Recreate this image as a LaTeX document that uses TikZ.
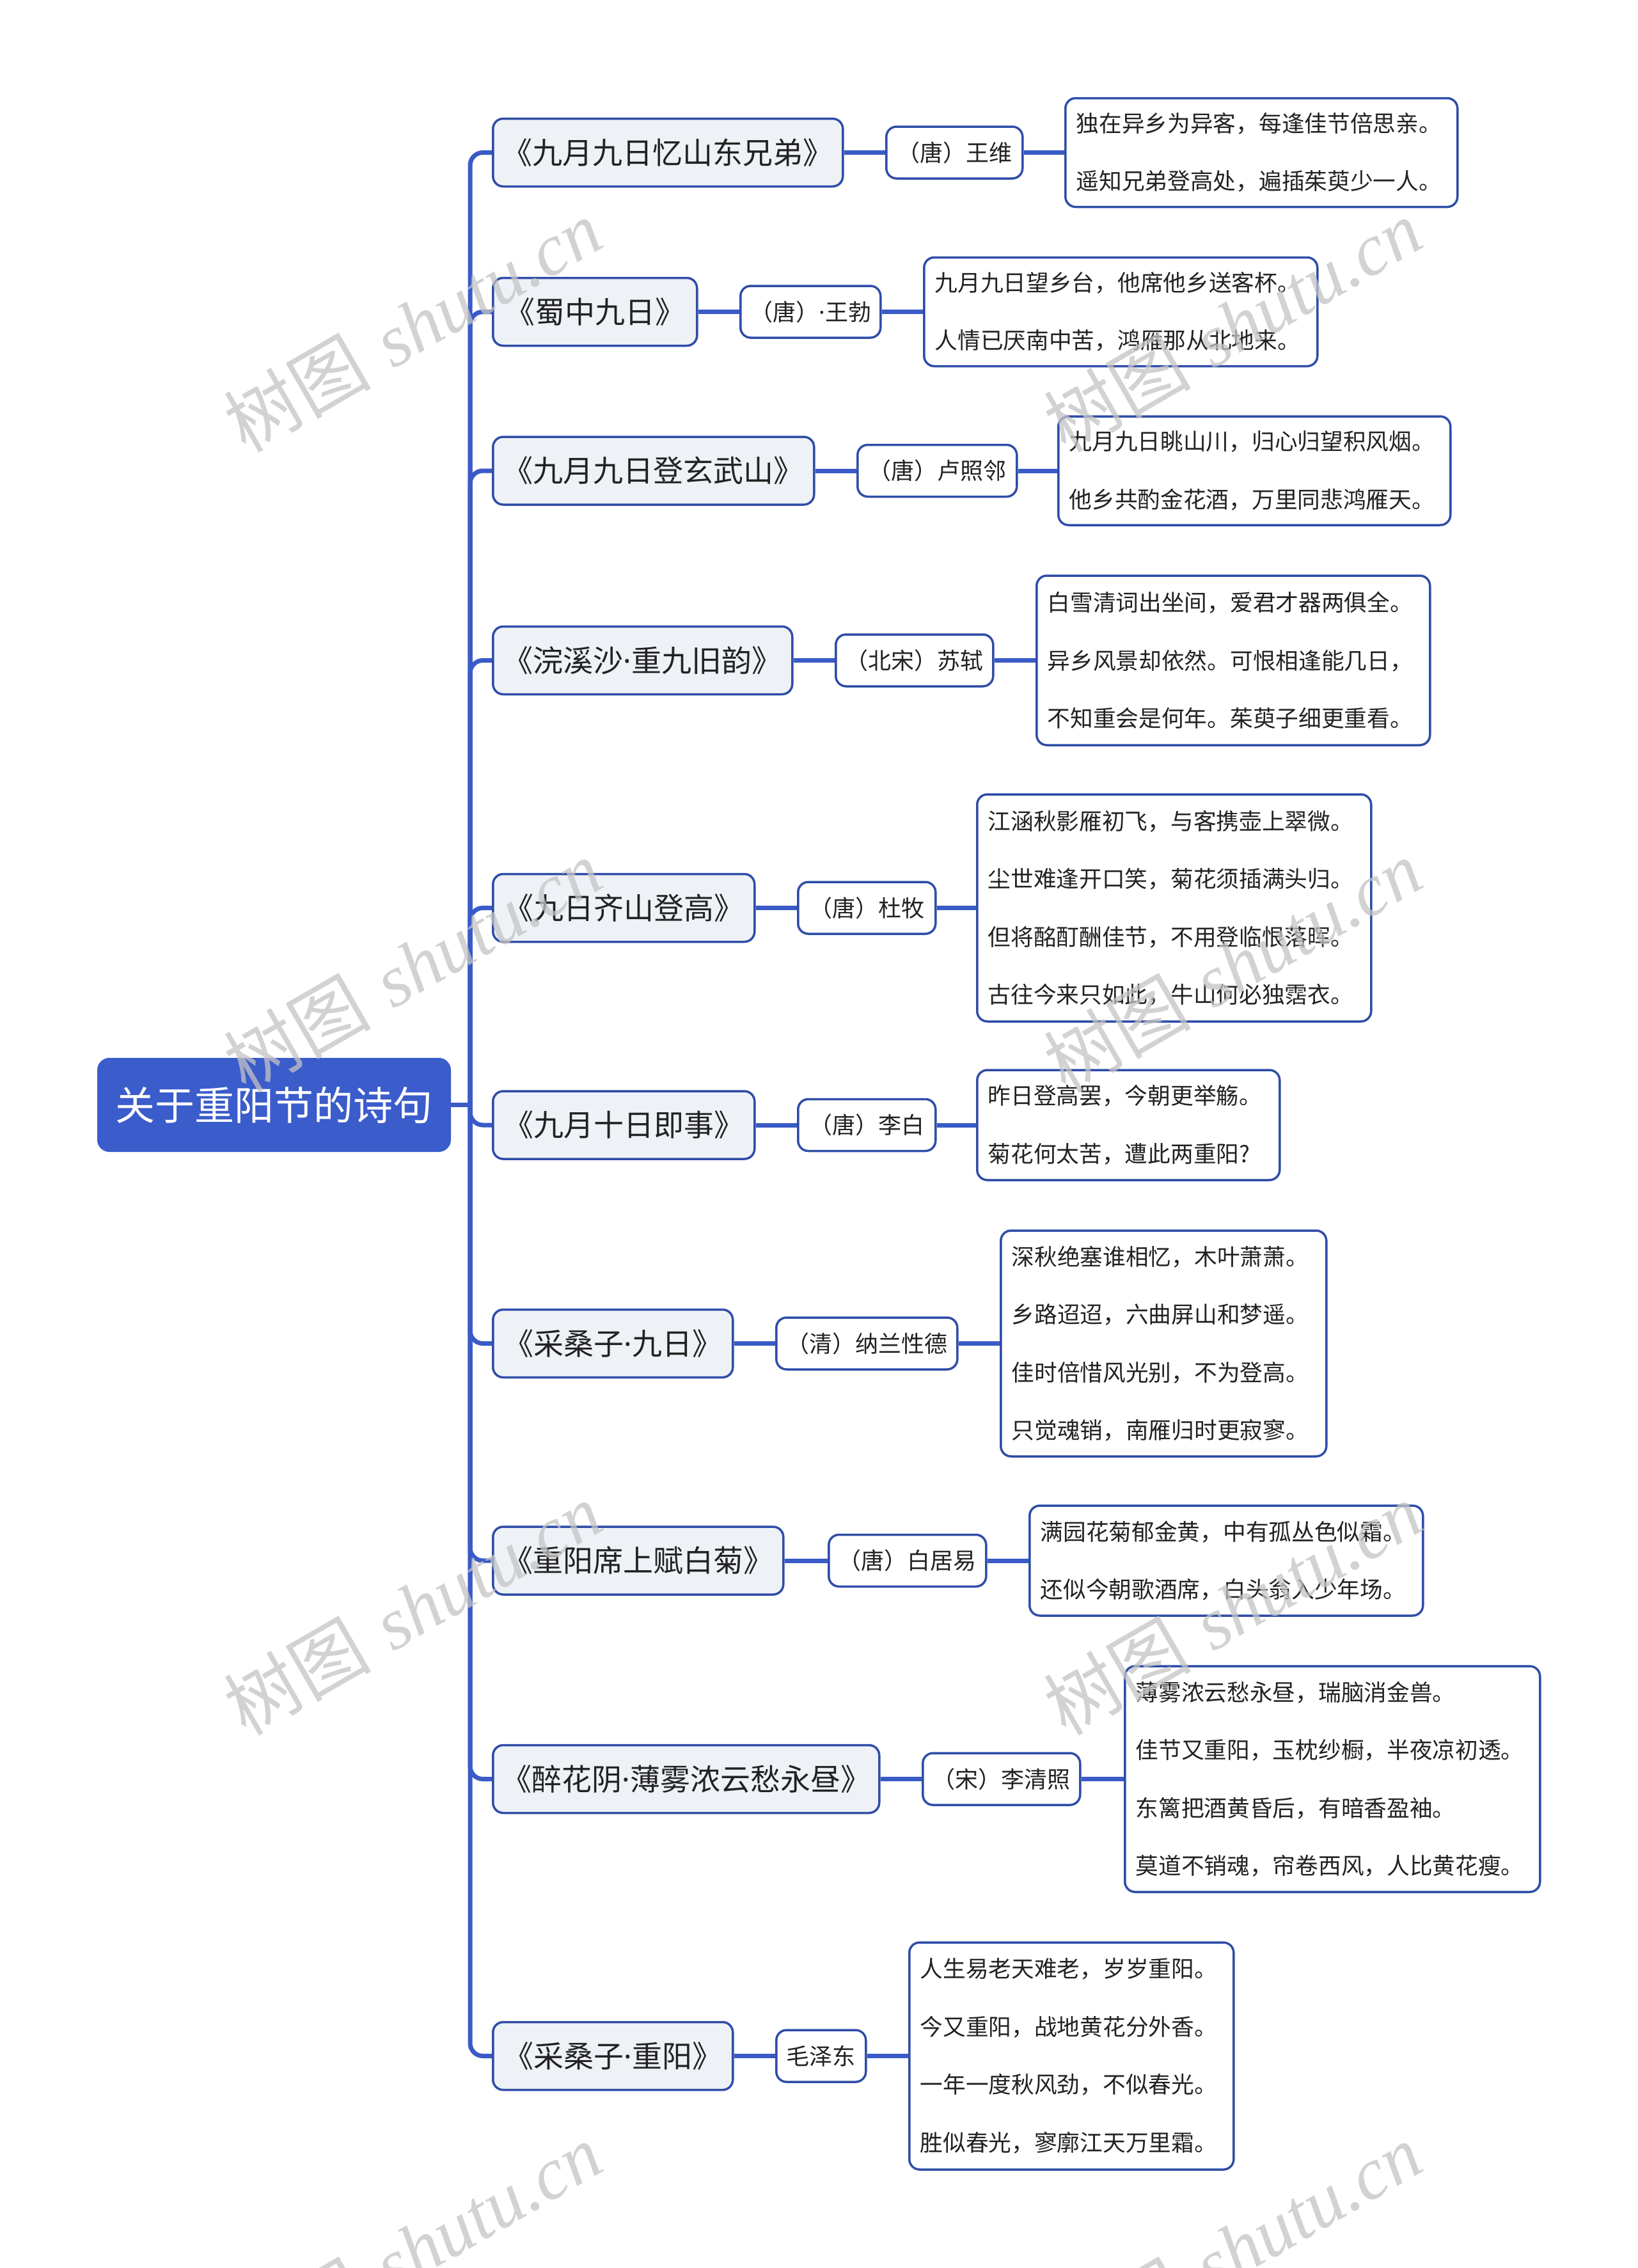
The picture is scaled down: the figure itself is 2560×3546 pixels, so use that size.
\documentclass[tikz,border=0pt]{standalone}
\usepackage{fontspec}
\newfontfamily\cjk{Noto Sans CJK SC}
\newfontfamily\latf{Noto Sans}
\newfontfamily\wmlat{Liberation Serif}
\newcommand{\mdot}{{\latf ·}}
\definecolor{lineblue}{HTML}{3A5BC7}
\definecolor{borderblue}{HTML}{2F4DA8}
\definecolor{rootblue}{HTML}{3B5CCB}
\definecolor{branchfill}{HTML}{EEF1F6}
\definecolor{txt}{HTML}{222222}
\definecolor{wmcol}{HTML}{C4C4C4}
\tikzset{
  conn/.style={draw=lineblue, line width=7pt},
  rootbox/.style={draw=rootblue, fill=rootblue, rounded corners=18pt, line width=2pt, text=white,
    font=\cjk\fontsize{62}{70}\selectfont, anchor=west, minimum height=145pt, inner sep=0pt},
  branchbox/.style={draw=borderblue, fill=branchfill, rounded corners=16pt, line width=3.5pt, text=txt,
    font=\cjk\fontsize{47}{52}\selectfont, anchor=west, minimum height=106pt, inner sep=0pt},
  authorbox/.style={draw=borderblue, fill=white, rounded corners=16pt, line width=3.5pt, text=txt,
    font=\cjk\fontsize{36}{40}\selectfont, anchor=west, minimum height=81pt, inner sep=0pt},
  poembox/.style={draw=borderblue, fill=white, rounded corners=16pt, line width=3.5pt, text=txt,
    font=\cjk\fontsize{35.7}{90.5}\selectfont, anchor=west, align=left, inner xsep=17pt, inner ysep=0pt},
  wmark/.style={text=wmcol, opacity=0.75, rotate=30, font=\fontsize{115}{120}\selectfont, inner sep=0pt}
}
\begin{document}
\begin{tikzpicture}[x=1pt, y=-1pt]
\useasboundingbox (0,0) rectangle (2560,3546);
\fill[white] (0,0) rectangle (2560,3546);

% root
\node[rootbox, minimum width=551pt] (root) at (152,1727.5) {关于重阳节的诗句};
\coordinate (hub) at (735,1727.5);

% branches
\node[branchbox, minimum width=547pt] (b1) at (769,238.5) {《九月九日忆山东兄弟》};
\node[branchbox, minimum width=319pt] (b2) at (769,487.5) {《蜀中九日》};
\node[branchbox, minimum width=502pt] (b3) at (769,736) {《九月九日登玄武山》};
\node[branchbox, minimum width=468pt] (b4) at (769,1032.5) {《浣溪沙\mdot 重九旧韵》};
\node[branchbox, minimum width=409pt] (b5) at (769,1419.5) {《九日齐山登高》};
\node[branchbox, minimum width=409pt] (b6) at (769,1759) {《九月十日即事》};
\node[branchbox, minimum width=375pt] (b7) at (769,2100.5) {《采桑子\mdot 九日》};
\node[branchbox, minimum width=454pt] (b8) at (769,2440) {《重阳席上赋白菊》};
\node[branchbox, minimum width=604pt] (b9) at (769,2781.5) {《醉花阴\mdot 薄雾浓云愁永昼》};
\node[branchbox, minimum width=375pt] (b10) at (769,3214.5) {《采桑子\mdot 重阳》};

% authors
\node[authorbox, minimum width=213pt] (a1) at (1384,238.5) {（唐）王维};
\node[authorbox, minimum width=219pt] (a2) at (1156,487.5) {（唐）\mdot 王勃};
\node[authorbox, minimum width=249pt] (a3) at (1339,736) {（唐）卢照邻};
\node[authorbox, minimum width=246pt] (a4) at (1305,1032.5) {（北宋）苏轼};
\node[authorbox, minimum width=215pt] (a5) at (1246,1419.5) {（唐）杜牧};
\node[authorbox, minimum width=215pt] (a6) at (1246,1759) {（唐）李白};
\node[authorbox, minimum width=283pt] (a7) at (1212,2100.5) {（清）纳兰性德};
\node[authorbox, minimum width=246pt] (a8) at (1294,2440) {（唐）白居易};
\node[authorbox, minimum width=246pt] (a9) at (1441,2781.5) {（宋）李清照};
\node[authorbox, minimum width=140pt] (a10) at (1212,3214.5) {毛泽东};

% poems
\node[poembox, text width=579pt, minimum height=170pt] (p1) at (1664,238.5)
  {独在异乡为异客，每逢佳节倍思亲。\\遥知兄弟登高处，遍插茱萸少一人。};
\node[poembox, text width=581pt, minimum height=170pt] (p2) at (1443,487.5)
  {九月九日望乡台，他席他乡送客杯。\\人情已厌南中苦，鸿雁那从北地来。};
\node[poembox, text width=579pt, minimum height=170pt] (p3) at (1653,736)
  {九月九日眺山川，归心归望积风烟。\\他乡共酌金花酒，万里同悲鸿雁天。};
\node[poembox, text width=581pt, minimum height=265pt] (p4) at (1619,1032.5)
  {白雪清词出坐间，爱君才器两俱全。\\异乡风景却依然。可恨相逢能几日，\\不知重会是何年。茱萸子细更重看。};
\node[poembox, text width=582pt, minimum height=355pt] (p5) at (1526,1419.5)
  {江涵秋影雁初飞，与客携壶上翠微。\\尘世难逢开口笑，菊花须插满头归。\\但将酩酊酬佳节，不用登临恨落晖。\\古往今来只如此，牛山何必独霑衣。};
\node[poembox, text width=439pt, minimum height=172pt] (p6) at (1526,1759)
  {昨日登高罢，今朝更举觞。\\菊花何太苦，遭此两重阳?};
\node[poembox, text width=475pt, minimum height=353pt] (p7) at (1563,2100.5)
  {深秋绝塞谁相忆，木叶萧萧。\\乡路迢迢，六曲屏山和梦遥。\\佳时倍惜风光别，不为登高。\\只觉魂销，南雁归时更寂寥。};
\node[poembox, text width=581pt, minimum height=172pt] (p8) at (1608,2440)
  {满园花菊郁金黄，中有孤丛色似霜。\\还似今朝歌酒席，白头翁入少年场。};
\node[poembox, text width=615pt, minimum height=353pt] (p9) at (1757,2781.5)
  {薄雾浓云愁永昼，瑞脑消金兽。\\佳节又重阳，玉枕纱橱，半夜凉初透。\\东篱把酒黄昏后，有暗香盈袖。\\莫道不销魂，帘卷西风，人比黄花瘦。};
\node[poembox, text width=473pt, minimum height=355pt] (p10) at (1420,3214.5)
  {人生易老天难老，岁岁重阳。\\今又重阳，战地黄花分外香。\\一年一度秋风劲，不似春光。\\胜似春光，寥廓江天万里霜。};

% connectors
\draw[conn] (root.east) -- (hub);
\foreach \i in {1,...,10} {
  \draw[conn, rounded corners=20pt] (hub) |- (b\i.west);
  \draw[conn] (b\i.east) -- (a\i.west);
  \draw[conn] (a\i.east) -- (p\i.west);
}

% watermarks
\foreach \wx in {645,1927} {
  \foreach \wy in {509,1510,2515,3517} {
    \node[wmark] at (\wx,\wy) {{\cjk 树图} {\wmlat\itshape shutu.cn}};
  }
}
\end{tikzpicture}
\end{document}
